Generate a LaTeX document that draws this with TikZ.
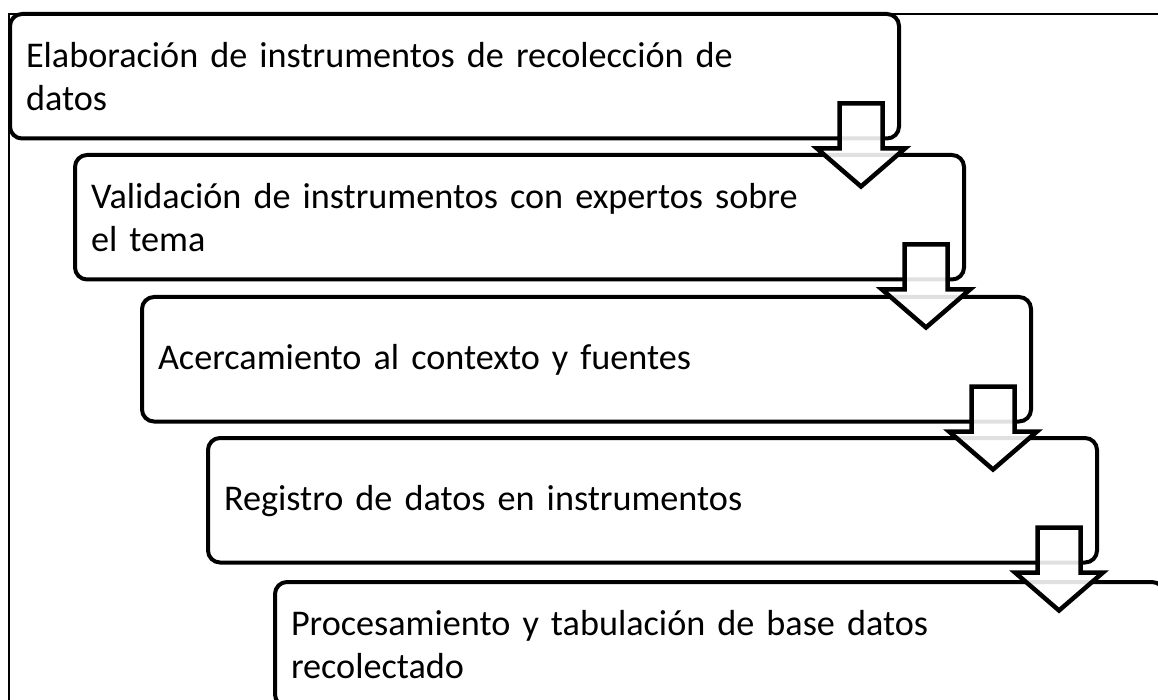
\documentclass[tikz,border=0pt]{standalone}
\usepackage{fontspec}
\setmainfont{Carlito}
\begin{document}
\begin{tikzpicture}[x=1pt,y=-1pt,
  stepbox/.style={draw=black, line width=4pt, rounded corners=12pt, fill=white,
    minimum width=889pt, minimum height=124.5pt, text width=857pt, inner xsep=16pt,
    inner ysep=0pt, align=left, anchor=north west, outer sep=0pt,
    font=\fontsize{36.2}{43}\selectfont},
  blockarrow/.style={draw=black, line width=4.5pt, line join=miter, fill=white, fill opacity=0.88},
  frameline/.style={draw=black, line width=2pt}]
\useasboundingbox (0,0) rectangle (1158,700);
\clip (0,0) rectangle (1158,700);
\draw[frameline] (9,720) -- (9,14) -- (1180,14);
\node[stepbox] (b1) at (10,14) {Elaboración de instrumentos de recolección de\\datos};
\node[stepbox] (b2) at (75,155) {Validación de instrumentos con expertos sobre\\el tema};
\node[stepbox, text depth=4pt] (b3) at (142,297) {Acercamiento al contexto y fuentes};
\node[stepbox, text depth=4pt] (b4) at (208,438) {Registro de datos en instrumentos};
\node[stepbox] (b5) at (275,582) {Procesamiento y tabulación de base datos\\recolectado};
\foreach \n in {b1,b2,b3,b4}{
  \begin{scope}[shift={(\n.south east)}]
    \draw[blockarrow] (-59.5,-35) -- (-16.5,-35) -- (-16.5,10) -- (6,10) -- (-38,48) -- (-82,10) -- (-59.5,10) -- cycle;
  \end{scope}
}
\end{tikzpicture}
\end{document}
